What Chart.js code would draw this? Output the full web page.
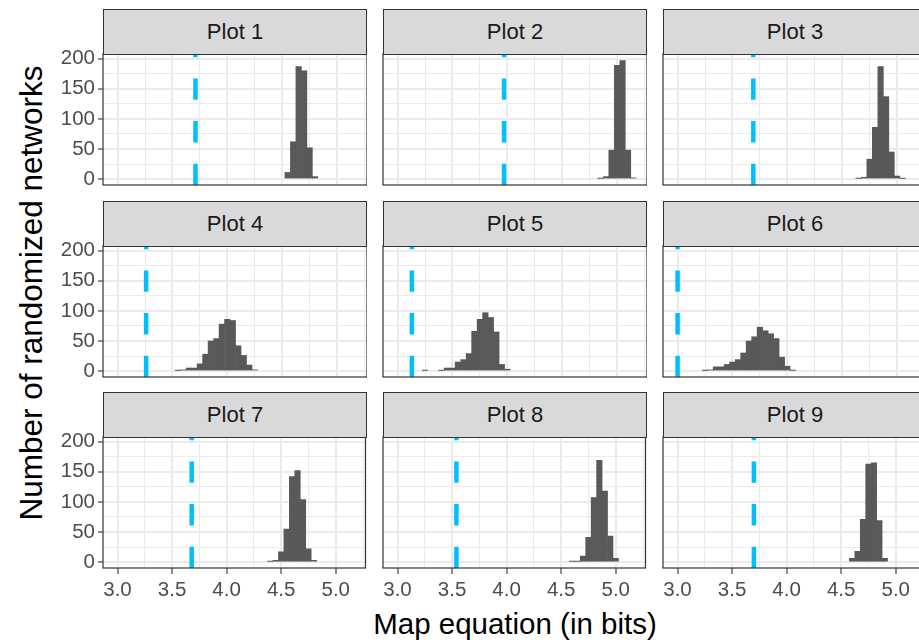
<!DOCTYPE html>
<html>
<head>
<meta charset="utf-8">
<title>Map equation histograms</title>
<script src="https://cdn.jsdelivr.net/npm/chart.js@4.4.1/dist/chart.umd.min.js"></script>
<style>
  html, body { margin: 0; padding: 0; background: #ffffff; width: 919px; height: 643px; overflow: hidden; }
  body { position: relative; font-family: "Liberation Sans", Arial, sans-serif; }
  canvas { position: absolute; }
  .strip {
    position: absolute; box-sizing: border-box;
    border: 1px solid #333333; background: #d9d9d9;
    color: #1a1a1a; font-size: 22px; text-align: center;
    display: flex; align-items: center; justify-content: center;
  }
  #ytitle {
    position: absolute; left: 31px; top: 293px; white-space: nowrap;
    font-size: 31.5px; color: #000;
    transform: translate(-50%, -50%) rotate(-90deg);
  }
  #xtitle {
    position: absolute; left: 515px; top: 624px; white-space: nowrap;
    font-size: 29.5px; color: #000;
    transform: translate(-50%, -50%);
  }
</style>
</head>
<body>
<div id="ytitle">Number of randomized networks</div>
<div id="xtitle">Map equation (in bits)</div>
<script>
// facet labels and the observed map equation value of each network (dashed line)
const panelNames = ["Plot 1", "Plot 2", "Plot 3", "Plot 4", "Plot 5", "Plot 6", "Plot 7", "Plot 8", "Plot 9"];
const observed = [3.71, 3.97, 3.69, 3.26, 3.13, 3.00, 3.68, 3.54, 3.70];

// histogram bins (width 0.05) of the randomized networks
const mids1 = [4.55, 4.60, 4.65, 4.70, 4.75, 4.80];
const counts1 = [11, 62, 187, 180, 52, 4];
const mids2 = [4.85, 4.90, 4.95, 5.00, 5.05, 5.10, 5.15];
const counts2 = [1, 4, 48, 189, 197, 48, 2];
const mids3 = [4.65, 4.70, 4.75, 4.80, 4.85, 4.90, 4.95, 5.00, 5.05];
const counts3 = [1, 3, 33, 86, 187, 137, 45, 5, 1];
const mids4 = [3.55, 3.60, 3.65, 3.70, 3.75, 3.80, 3.85, 3.90, 3.95, 4.00, 4.05, 4.10, 4.15, 4.20, 4.25];
const counts4 = [1, 2, 5, 5, 12, 28, 50, 54, 78, 86, 84, 42, 26, 10, 2];
const mids5 = [3.25, 3.30, 3.35, 3.40, 3.45, 3.50, 3.55, 3.60, 3.65, 3.70, 3.75, 3.80, 3.85, 3.90, 3.95, 4.00];
const counts5 = [1, null, null, 1, 5, 5, 15, 19, 29, 66, 86, 97, 89, 65, 11, 3];
const mids6 = [3.25, 3.30, 3.35, 3.40, 3.45, 3.50, 3.55, 3.60, 3.65, 3.70, 3.75, 3.80, 3.85, 3.90, 3.95, 4.00, 4.05];
const counts6 = [1, 2, 7, 7, 11, 15, 19, 30, 50, 57, 73, 67, 62, 54, 23, 8, 1];
const mids7 = [4.40, 4.45, 4.50, 4.55, 4.60, 4.65, 4.70, 4.75, 4.80];
const counts7 = [1, 3, 17, 55, 142, 152, 104, 22, 3];
const mids8 = [4.60, 4.65, 4.70, 4.75, 4.80, 4.85, 4.90, 4.95, 5.00];
const counts8 = [1, 1, 10, 41, 107, 169, 118, 43, 6];
const mids9 = [4.60, 4.65, 4.70, 4.75, 4.80, 4.85, 4.90];
const counts9 = [6, 18, 71, 163, 165, 69, 6];

// axis ticks (majors labelled, the rest are minor grid lines)
const xTicks = [3.0, 3.25, 3.5, 3.75, 4.0, 4.25, 4.5, 4.75, 5.0, 5.25];
const xLabelled = [3.0, 3.5, 4.0, 4.5, 5.0];
const yTicks = [0, 25, 50, 75, 100, 125, 150, 175, 200];
const yLabelled = [0, 50, 100, 150, 200];

const allMids = [mids1, mids2, mids3, mids4, mids5, mids6, mids7, mids8, mids9];
const allCounts = [counts1, counts2, counts3, counts4, counts5, counts6, counts7, counts8, counts9];

// shared scale limits (fixed scales across facets)
const xMin = 2.867, xMax = 5.273;
const yMin = -9.9, yMax = 207.9;

// layout in px
const PW = 264, PH = 131, STRIP = 45, YAX = 60, XAX = 50;
const colLeft = [103, 383, 663];
const rowTop = [9, 201, 392];
const fontFamily = '"Liberation Sans", Arial, sans-serif';

const panelBorder = {
  id: 'panelBorder',
  afterDraw(chart) {
    const a = chart.chartArea;
    const c = chart.ctx;
    c.save();
    c.strokeStyle = '#333333';
    c.lineWidth = 1.2;
    c.strokeRect(a.left, a.top, a.right - a.left, a.bottom - a.top);
    c.restore();
  }
};

const isMajor = (v, list) => list.some(m => Math.abs(m - v) < 1e-6);

panelNames.forEach((name, i) => {
  const col = i % 3, row = Math.floor(i / 3);
  const showY = col === 0, showX = row === 2;

  const canvas = document.createElement('canvas');
  canvas.width = YAX + PW;
  canvas.height = STRIP + PH + XAX;
  canvas.style.left = (colLeft[col] - YAX) + 'px';
  canvas.style.top = rowTop[row] + 'px';
  document.body.appendChild(canvas);

  const strip = document.createElement('div');
  strip.className = 'strip';
  strip.textContent = name;
  strip.style.left = colLeft[col] + 'px';
  strip.style.top = rowTop[row] + 'px';
  strip.style.width = PW + 'px';
  strip.style.height = (STRIP + 1) + 'px';
  document.body.appendChild(strip);

  const bars = allMids[i].map((m, k) => ({ x: m, y: allCounts[i][k] }));

  new Chart(canvas.getContext('2d'), {
    type: 'bar',
    data: {
      datasets: [
        {
          type: 'line',
          data: [{ x: observed[i], y: yMin }, { x: observed[i], y: yMax }],
          borderColor: '#00BFFF',
          borderWidth: 4.5,
          borderDash: [21.3, 21.3],
          borderCapStyle: 'butt',
          pointRadius: 0,
          fill: false
        },
        {
          data: bars,
          backgroundColor: '#595959',
          borderWidth: 0,
          barPercentage: 1,
          categoryPercentage: 1
        }
      ]
    },
    options: {
      responsive: false,
      animation: false,
      devicePixelRatio: 1,
      events: [],
      layout: { padding: { top: STRIP, left: 0, right: 0, bottom: 0 } },
      plugins: { legend: { display: false }, tooltip: { enabled: false } },
      scales: {
        x: {
          type: 'linear',
          min: xMin,
          max: xMax,
          offset: false,
          afterBuildTicks: s => { s.ticks = xTicks.map(v => ({ value: v })); },
          afterFit: s => { s.height = XAX; },
          border: { display: false },
          grid: {
            offset: false,
            color: '#EBEBEB',
            lineWidth: c => (c.tick && isMajor(c.tick.value, xLabelled)) ? 2 : 1,
            drawTicks: showX,
            tickLength: 6,
            tickWidth: 1.1,
            tickColor: c => (c.tick && isMajor(c.tick.value, xLabelled)) ? '#333333' : 'rgba(0,0,0,0)'
          },
          ticks: {
            display: showX,
            autoSkip: false,
            maxRotation: 0,
            minRotation: 0,
            padding: 4,
            color: '#4D4D4D',
            font: { family: fontFamily, size: 20.5 },
            callback: v => isMajor(v, xLabelled) ? v.toFixed(1) : ''
          }
        },
        y: {
          type: 'linear',
          min: yMin,
          max: yMax,
          afterBuildTicks: s => { s.ticks = yTicks.map(v => ({ value: v })); },
          afterFit: s => { s.width = YAX; },
          border: { display: false },
          grid: {
            color: '#EBEBEB',
            lineWidth: c => (c.tick && isMajor(c.tick.value, yLabelled)) ? 2 : 1,
            drawTicks: showY,
            tickLength: 5,
            tickWidth: 1.1,
            tickColor: c => (c.tick && isMajor(c.tick.value, yLabelled)) ? '#333333' : 'rgba(0,0,0,0)'
          },
          ticks: {
            display: showY,
            autoSkip: false,
            padding: 3,
            color: '#4D4D4D',
            font: { family: fontFamily, size: 20.5 },
            callback: v => isMajor(v, yLabelled) ? String(v) : ''
          }
        }
      }
    },
    plugins: [panelBorder]
  });
});
</script>
</body>
</html>
